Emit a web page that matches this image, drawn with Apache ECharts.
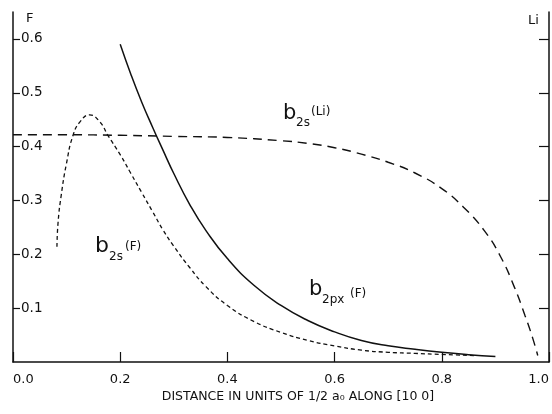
<!DOCTYPE html>
<html>
<head>
<meta charset="utf-8">
<script src="https://cdn.jsdelivr.net/npm/echarts@6/dist/echarts.min.js"></script>
<style>
  html, body { margin: 0; padding: 0; background: #fff; }
  #main { width: 552px; height: 414px; }
</style>
</head>
<body>
<div id="main"></div>
<script>
// b2px(F) - solid
var pxX = [0.2, 0.22, 0.24, 0.26, 0.28, 0.3, 0.33, 0.36, 0.4, 0.45, 0.5, 0.55, 0.6, 0.65, 0.7, 0.75, 0.8, 0.85, 0.9];
var pxY = [0.59, 0.534, 0.483, 0.437, 0.393, 0.35, 0.292, 0.244, 0.192, 0.142, 0.105, 0.077, 0.056, 0.04, 0.03, 0.0235, 0.018, 0.0136, 0.01];

// b2s(F) - short dashes
var sfX = [0.082, 0.084, 0.09, 0.1, 0.112, 0.125, 0.143, 0.162, 0.177, 0.2, 0.22, 0.24, 0.26, 0.28, 0.3, 0.33, 0.36, 0.4, 0.45, 0.5, 0.55, 0.6, 0.65, 0.7, 0.75, 0.8, 0.86];
var sfY = [0.214, 0.258, 0.31, 0.37, 0.421, 0.446, 0.459, 0.446, 0.421, 0.385, 0.35, 0.315, 0.28, 0.245, 0.215, 0.175, 0.14, 0.105, 0.075, 0.055, 0.04, 0.03, 0.022, 0.018, 0.016, 0.014, 0.012];

// b2s(Li) - long dashes
var liX = [0, 0.1, 0.2, 0.3, 0.4, 0.5, 0.55, 0.6, 0.65, 0.7, 0.75, 0.8, 0.84, 0.88, 0.91, 0.935, 0.955, 0.97, 0.979];
var liY = [0.422, 0.422, 0.421, 0.419, 0.417, 0.411, 0.406, 0.398, 0.386, 0.371, 0.351, 0.322, 0.288, 0.243, 0.195, 0.14, 0.087, 0.043, 0.012];

var yTicks = [0.1, 0.2, 0.3, 0.4, 0.5, 0.6];

function pairs(xs, ys) {
  return xs.map(function (x, i) { return [x, ys[i]]; });
}

var chart = echarts.init(document.getElementById('main'));
var font = 'DejaVu Sans';
var ink = '#111';

function txt(x, y, s, size, align) {
  return {
    type: 'text', x: x, y: y,
    style: {
      text: s, fontSize: size, fontFamily: font, fill: ink,
      textAlign: align || 'left', textVerticalAlign: 'middle'
    }
  };
}

var option = {
  animation: false,
  backgroundColor: '#fff',
  grid: { left: 13, right: 2, top: 12, bottom: 52 },
  xAxis: {
    type: 'value', min: 0, max: 1, interval: 0.2,
    axisLine: { lineStyle: { color: ink, width: 1.5 } },
    axisTick: { inside: true, length: 10, lineStyle: { color: ink, width: 1.2 } },
    axisLabel: {
      color: ink, fontSize: 13, fontFamily: font, margin: 11,
      alignMinLabel: 'left', alignMaxLabel: 'right',
      formatter: function (v) { return v.toFixed(1); }
    },
    splitLine: { show: false }
  },
  yAxis: [
    {
      type: 'value', min: 0, max: 0.65, position: 'left',
      axisLine: { show: true, lineStyle: { color: ink, width: 1.5 } },
      axisTick: { show: true, inside: true, length: 7, customValues: yTicks, lineStyle: { color: ink, width: 1.2 } },
      axisLabel: {
        inside: true, margin: 8, color: ink, fontSize: 13.5, fontFamily: font,
        customValues: yTicks,
        formatter: function (v) { return v.toFixed(1); }
      },
      splitLine: { show: false }
    },
    {
      type: 'value', min: 0, max: 0.65, position: 'right',
      axisLine: { show: true, lineStyle: { color: ink, width: 1.5 } },
      axisTick: { show: true, inside: true, length: 10, customValues: yTicks, lineStyle: { color: ink, width: 1.2 } },
      axisLabel: { show: false },
      splitLine: { show: false }
    }
  ],
  series: [
    {
      name: 'b2px(F)', type: 'line', smooth: true, showSymbol: false,
      data: pairs(pxX, pxY),
      lineStyle: { color: ink, width: 1.5 }
    },
    {
      name: 'b2s(F)', type: 'line', smooth: true, showSymbol: false,
      data: pairs(sfX, sfY),
      lineStyle: { color: ink, width: 1.3, type: [4, 3] }
    },
    {
      name: 'b2s(Li)', type: 'line', smooth: true, showSymbol: false,
      data: pairs(liX, liY),
      lineStyle: { color: ink, width: 1.4, type: [9, 6] }
    }
  ],
  graphic: [
    txt(26, 19, 'F', 13),
    txt(528, 21, 'Li', 13),
    // b2s(Li)
    txt(283, 114, 'b', 21),
    txt(296, 123, '2s', 12),
    txt(311, 112, '(Li)', 12),
    // b2s(F)
    txt(95, 246, 'b', 22),
    txt(109, 257, '2s', 12),
    txt(125, 247, '(F)', 12),
    // b2px(F)
    txt(309, 290, 'b', 21),
    txt(322, 300, '2px', 12),
    txt(350, 294, '(F)', 12),
    txt(298, 397, 'DISTANCE IN UNITS OF 1/2 a\u2080 ALONG [10 0]', 12.5, 'center')
  ]
};

chart.setOption(option);
</script>
</body>
</html>
